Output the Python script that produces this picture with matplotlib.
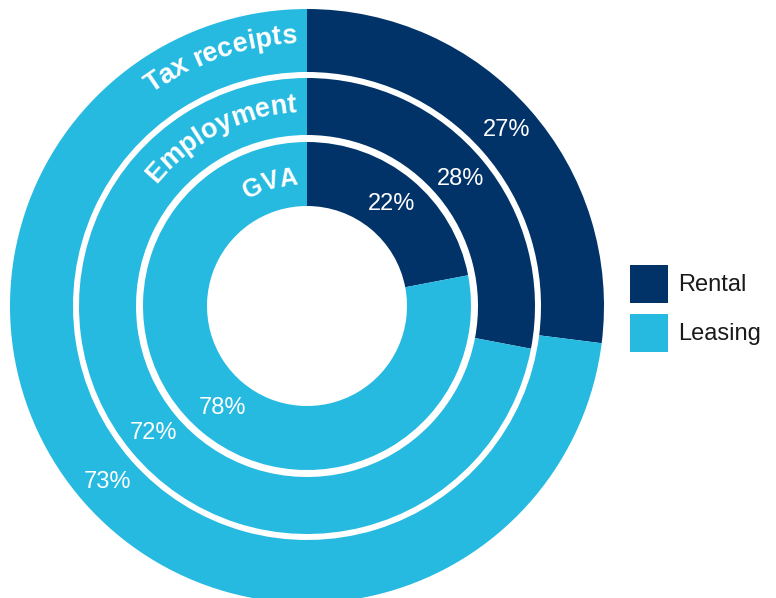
import numpy as np
import matplotlib
matplotlib.use('Agg')
import matplotlib.pyplot as plt
from matplotlib.patches import Patch
from matplotlib.font_manager import FontProperties

plt.rcParams['font.family'] = ['Liberation Sans', 'DejaVu Sans']

# data (inner ring -> outer ring)
rings = ['GVA', 'Employment', 'Tax receipts']
rental = [22, 28, 27]
leasing = [78, 72, 73]
series = ['Rental', 'Leasing']
colors = ['#013368', '#26bae0']

fig = plt.figure(figsize=(7.76, 5.98), dpi=100)
ax = fig.add_axes([0, 0, 1, 1])

# geometry in pixels
cx, cy = 307, 292
outer = [164, 228, 297]
inner = [100, 171, 234]
base_r = [122, 194, 263]
name_fs = [18, 19.5, 19.5]

for i in range(3):
    ax.pie([rental[i], leasing[i]], radius=outer[i], center=(cx, cy),
           startangle=90, counterclock=False, colors=colors,
           wedgeprops=dict(width=outer[i] - inner[i], linewidth=0))

ax.set_xlim(0, 776)
ax.set_ylim(0, 598)
ax.axis('off')

# percent labels
for i in range(3):
    rm = (outer[i] + inner[i]) / 2
    tot = rental[i] + leasing[i]
    a1 = np.radians(90 - 360 * rental[i] / tot / 2)
    a2 = np.radians(90 - 360 * (rental[i] + leasing[i] / 2) / tot)
    ax.text(cx + rm * np.cos(a1), cy + rm * np.sin(a1), f'{rental[i]}%',
            color='white', fontsize=17, ha='center', va='center')
    ax.text(cx + rm * np.cos(a2), cy + rm * np.sin(a2), f'{leasing[i]}%',
            color='white', fontsize=17, ha='center', va='center')

# curved ring names
renderer = fig.canvas.get_renderer()


def tw(s, fp):
    if s == '':
        return 0.0
    return renderer.get_text_width_height_descent(s, fp, ismath=False)[0]


for i, name in enumerate(rings):
    fp = FontProperties(family='Liberation Sans', weight='bold', size=name_fs[i])
    r = base_r[i]
    W = tw(name, fp)
    end = np.pi / 2 + 10 / r
    start = end + W / r
    for k, ch in enumerate(name):
        if ch == ' ':
            continue
        s = (tw(name[:k], fp) + tw(name[:k + 1], fp)) / 2
        th = start - s / r
        ax.text(cx + r * np.cos(th), cy + r * np.sin(th), ch, fontproperties=fp,
                color='white', ha='center', va='baseline',
                rotation=np.degrees(th) - 90, rotation_mode='anchor')

handles = [Patch(facecolor=c, edgecolor='none') for c in colors]
fig.legend(handles, series, loc='upper left', bbox_to_anchor=(630 / 776, 1 - 265 / 598),
           frameon=False, fontsize=17, handlelength=1.6, handleheight=2.1,
           handletextpad=0.45, labelspacing=0.45, borderpad=0, borderaxespad=0,
           labelcolor='#1a1a1a')

fig.savefig('out.png', dpi=100)
